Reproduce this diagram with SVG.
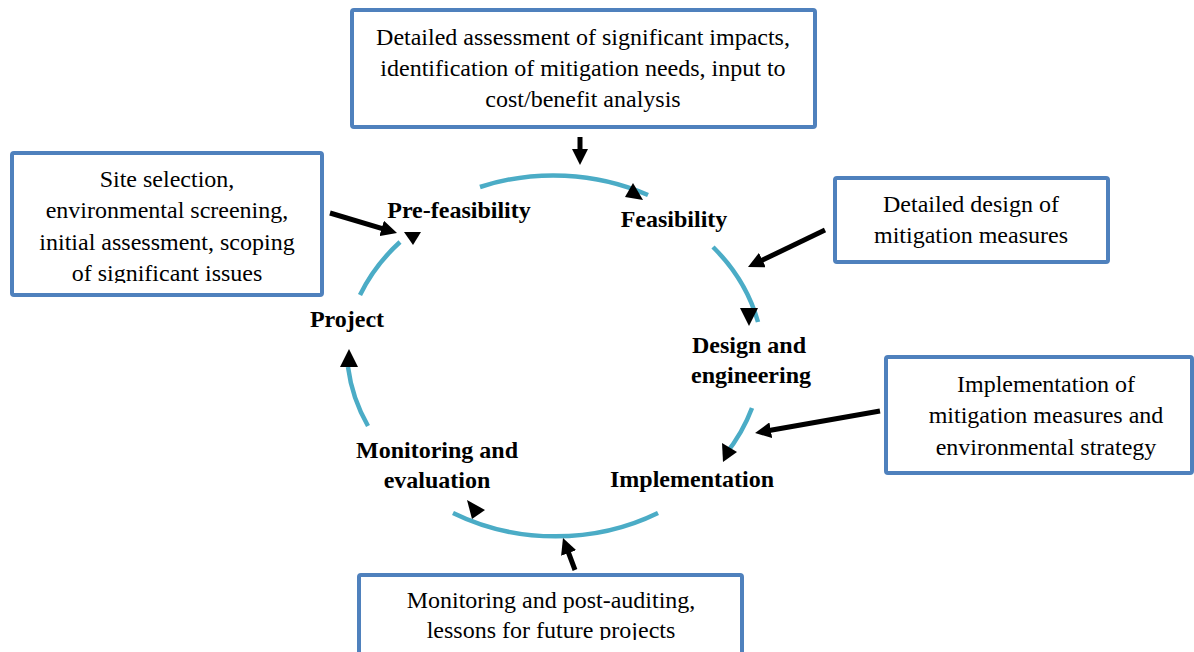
<svg xmlns="http://www.w3.org/2000/svg" width="1194" height="652" viewBox="0 0 1194 652">
  <style>
    .box { fill: #ffffff; stroke: #4F81BD; stroke-width: 4; }
    .note { font-family: "Liberation Serif", "Times New Roman", serif; font-size: 24px; fill: #000000; text-anchor: middle; }
    .stage { font-family: "Liberation Serif", "Times New Roman", serif; font-size: 24px; font-weight: bold; fill: #000000; text-anchor: middle; }
    .cycle { fill: none; stroke: #4BACC6; stroke-width: 4.5; }
    .head { fill: #000000; }
    .pointer { fill: none; stroke: #000000; stroke-width: 5; marker-end: url(#tip); }
  </style>
  <defs>
    <marker id="tip" viewBox="0 0 16 16" markerWidth="16" markerHeight="16" refX="6" refY="8" orient="auto" markerUnits="userSpaceOnUse">
      <path d="M0,0 L16,8 L0,16 z" fill="#000000"/>
    </marker>
    <clipPath id="clip-left"><rect x="14" y="155" width="306" height="128"/></clipPath>
    <clipPath id="clip-bottom"><rect x="361" y="577" width="379" height="63"/></clipPath>
  </defs>

  <rect width="1194" height="652" fill="#ffffff"/>

  <!-- cycle arcs and their arrowheads -->
  <g id="cycle">
    <path class="cycle" d="M480,187 A207,178 0 0 1 648,195"/>
    <path class="cycle" d="M713,247 A207,178 0 0 1 758,322"/>
    <path class="cycle" d="M752,408 A207,178 0 0 1 725,455"/>
    <path class="cycle" d="M658,513 A207,178 0 0 1 453,513"/>
    <path class="cycle" d="M368,426 A207,178 0 0 1 348,367"/>
    <path class="cycle" d="M360,295 A207,178 0 0 1 400,242"/>
    <polygon class="head" points="625,197 643,200 633,183"/>
    <polygon class="head" points="740,308 758,308 749,326"/>
    <polygon class="head" points="722,443 737,452 723,462"/>
    <polygon class="head" points="467,500 485,510 472,519"/>
    <polygon class="head" points="340,367 358,367 349,349"/>
    <polygon class="head" points="404,232 421,232 413,245"/>
  </g>

  <!-- stage labels -->
  <g id="stage-prefeasibility"><text class="stage" x="459" y="218">Pre-feasibility</text></g>
  <g id="stage-feasibility"><text class="stage" x="674" y="227">Feasibility</text></g>
  <g id="stage-design">
    <text class="stage" x="749" y="353">Design and</text>
    <text class="stage" x="751" y="383">engineering</text>
  </g>
  <g id="stage-implementation"><text class="stage" x="692" y="487">Implementation</text></g>
  <g id="stage-monitoring">
    <text class="stage" x="437" y="458">Monitoring and</text>
    <text class="stage" x="437" y="488">evaluation</text>
  </g>
  <g id="stage-project"><text class="stage" x="347" y="327">Project</text></g>

  <!-- note boxes -->
  <g id="note-feasibility">
    <rect class="box" x="352" y="10" width="463" height="117" rx="2"/>
    <text class="note" x="583" y="45">Detailed assessment of significant impacts,</text>
    <text class="note" x="583" y="76">identification of mitigation needs, input to</text>
    <text class="note" x="583" y="107">cost/benefit analysis</text>
  </g>
  <g id="note-prefeasibility">
    <rect class="box" x="12" y="153" width="310" height="142" rx="2"/>
    <g clip-path="url(#clip-left)">
      <text class="note" x="167" y="187">Site selection,</text>
      <text class="note" x="167" y="218">environmental screening,</text>
      <text class="note" x="167" y="250">initial assessment, scoping</text>
      <text class="note" x="167" y="281">of significant issues</text>
    </g>
  </g>
  <g id="note-design">
    <rect class="box" x="835" y="178" width="273" height="84" rx="2"/>
    <text class="note" x="971" y="212">Detailed design of</text>
    <text class="note" x="971" y="243">mitigation measures</text>
  </g>
  <g id="note-implementation">
    <rect class="box" x="886" y="357" width="306" height="116" rx="2"/>
    <text class="note" x="1046" y="392">Implementation of</text>
    <text class="note" x="1046" y="423">mitigation measures and</text>
    <text class="note" x="1046" y="455">environmental strategy</text>
  </g>
  <g id="note-monitoring">
    <rect class="box" x="359" y="575" width="383" height="100" rx="2"/>
    <g clip-path="url(#clip-bottom)">
      <text class="note" x="551" y="608">Monitoring and post-auditing,</text>
      <text class="note" x="551" y="638">lessons for future projects</text>
    </g>
  </g>

  <!-- pointers from notes to the cycle -->
  <g id="connectors">
    <path class="pointer" d="M580,137 L580,155"/>
    <path class="pointer" d="M330,213 L387.4,230.1"/>
    <path class="pointer" d="M825,230 L757,262.7"/>
    <path class="pointer" d="M880,411 L764.9,431.3"/>
    <path class="pointer" d="M575,570 L566.5,547.4"/>
  </g>
</svg>
